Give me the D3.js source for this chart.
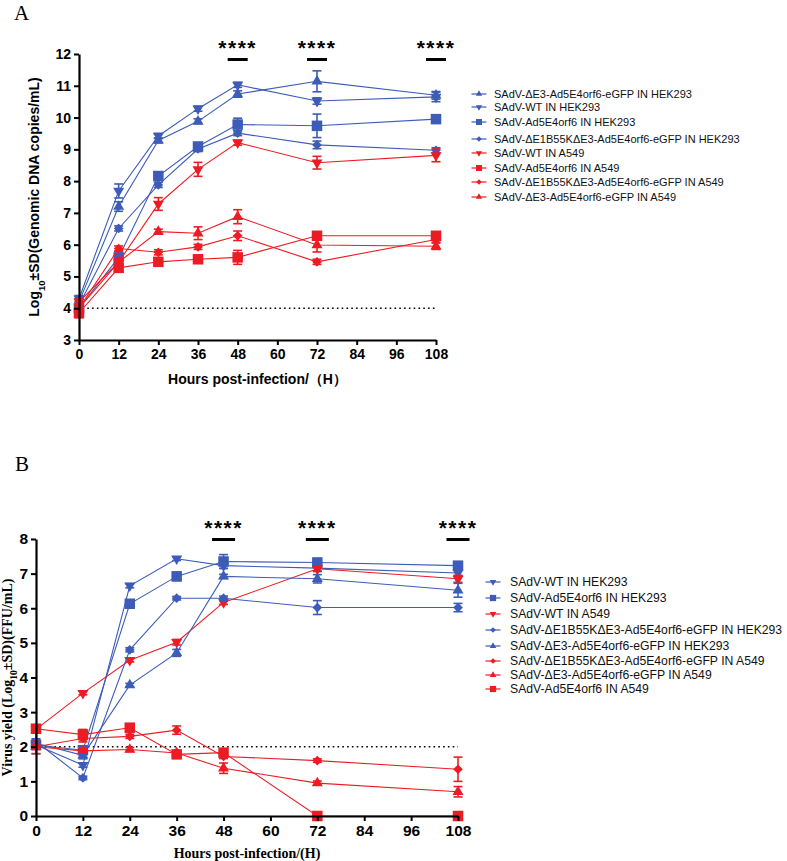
<!DOCTYPE html>
<html>
<head>
<meta charset="utf-8">
<script src="https://cdn.jsdelivr.net/npm/d3@7"></script>
<style>
  body { margin: 0; background: #fff; }
  svg { display: block; }
</style>
</head>
<body>
<svg id="chart" width="787" height="861"></svg>
<script>
// ---------------- DATA ----------------
const hours = [0, 12, 24, 36, 48, 72, 108];
const xTickValues = [0, 12, 24, 36, 48, 60, 72, 84, 96, 108];
const sigHours = [48, 72, 108];

// Panel A : genomic DNA copies
const namesA = [
  "SAdV-ΔE3-Ad5E4orf6-eGFP IN HEK293",
  "SAdV-WT IN HEK293",
  "SAdV-Ad5E4orf6 IN HEK293",
  "SAdV-ΔE1B55KΔE3-Ad5E4orf6-eGFP IN HEK293",
  "SAdV-WT IN A549",
  "SAdV-Ad5E4orf6 IN A549",
  "SAdV-ΔE1B55KΔE3-Ad5E4orf6-eGFP IN A549",
  "SAdV-ΔE3-Ad5E4orf6-eGFP IN A549"
];
const colorsA = ["blue", "blue", "blue", "blue", "red", "red", "red", "red"];
const shapesA = ["up", "down", "square", "diamond", "down", "square", "diamond", "up"];
const valuesA = [
  [4.20, 7.20, 9.28, 9.88, 10.74, 11.14, 10.70],
  [4.30, 7.69, 9.42, 10.28, 11.03, 10.52, 10.65],
  [4.00, 5.60, 8.16, 9.09, 9.78, 9.74, 9.95],
  [4.10, 6.51, 7.88, 9.01, 9.51, 9.14, 8.97],
  [4.20, 5.45, 7.28, 8.37, 9.21, 8.58, 8.81],
  [3.85, 5.27, 5.46, 5.54, 5.60, 6.28, 6.28],
  [4.00, 5.88, 5.76, 5.93, 6.28, 5.46, 6.16],
  [4.00, 5.45, 6.41, 6.36, 6.88, 5.99, 5.95]
];
const errorsA = [
  [0.10, 0.15, 0.08, 0.08, 0.10, 0.33, 0.12],
  [0.10, 0.22, 0.08, 0.08, 0.08, 0.10, 0.15],
  [0.15, 0.20, 0.10, 0.08, 0.20, 0.37, 0.10],
  [0.10, 0.08, 0.08, 0.08, 0.08, 0.12, 0.08],
  [0.10, 0.10, 0.20, 0.22, 0.08, 0.20, 0.20],
  [0.15, 0.10, 0.10, 0.10, 0.22, 0.10, 0.10],
  [0.10, 0.08, 0.08, 0.08, 0.15, 0.08, 0.08],
  [0.10, 0.08, 0.08, 0.20, 0.22, 0.22, 0.10]
];
const yTicksA = [3, 4, 5, 6, 7, 8, 9, 10, 11, 12];

// Panel B : virus yield
const namesB = [
  "SAdV-WT IN HEK293",
  "SAdV-Ad5E4orf6 IN HEK293",
  "SAdV-WT IN A549",
  "SAdV-ΔE1B55KΔE3-Ad5E4orf6-eGFP IN HEK293",
  "SAdV-ΔE3-Ad5E4orf6-eGFP IN HEK293",
  "SAdV-ΔE1B55KΔE3-Ad5E4orf6-eGFP IN A549",
  "SAdV-ΔE3-Ad5E4orf6-eGFP IN A549",
  "SAdV-Ad5E4orf6 IN A549"
];
const colorsB = ["blue", "blue", "red", "blue", "blue", "red", "red", "red"];
const shapesB = ["down", "square", "down", "diamond", "up", "diamond", "up", "square"];
const valuesB = [
  [2.05, 1.47, 6.65, 7.43, 7.23, 7.16, 7.02],
  [2.05, 1.90, 6.13, 6.92, 7.35, 7.32, 7.23],
  [2.50, 3.55, 4.50, 5.02, 6.17, 7.14, 6.85],
  [2.15, 1.10, 4.80, 6.29, 6.29, 6.02, 6.02],
  [2.10, 1.75, 3.78, 4.71, 6.92, 6.85, 6.52],
  [2.00, 2.24, 2.30, 2.48, 1.72, 1.60, 1.35],
  [2.00, 1.88, 1.92, 1.82, 1.38, 0.95, 0.70],
  [2.52, 2.35, 2.55, 1.78, 1.83, 0.00, 0.00]
];
const errorsB = [
  [0.08, 0.06, 0.06, 0.05, 0.08, 0.08, 0.08],
  [0.10, 0.12, 0.10, 0.12, 0.20, 0.12, 0.08],
  [0.08, 0.05, 0.05, 0.08, 0.06, 0.08, 0.10],
  [0.08, 0.05, 0.06, 0.05, 0.06, 0.20, 0.12],
  [0.30, 0.10, 0.05, 0.10, 0.06, 0.12, 0.20],
  [0.20, 0.10, 0.06, 0.12, 0.06, 0.05, 0.35],
  [0.08, 0.06, 0.06, 0.06, 0.15, 0.06, 0.15],
  [0.08, 0.15, 0.08, 0.06, 0.10, 0.00, 0.00]
];
const yTicksB = [0, 1, 2, 3, 4, 5, 6, 7, 8];

// ---------------- STYLE ----------------
const palette = { blue: "#3d5cb8", red: "#ec1c24" };
const SANS = "'Liberation Sans', Arial, sans-serif";
const SERIF = "'Liberation Serif', 'Times New Roman', serif";
const svg = d3.select("#chart");

function symbolPath(shape, size) {
  if (shape === "square") return d3.symbol(d3.symbolSquare, size * 1.3)();
  if (shape === "diamond") return d3.symbol(d3.symbolSquare, size * 0.55)();
  return d3.symbol(d3.symbolTriangle, size * 0.62)();
}
function symbolRotate(shape) {
  if (shape === "down") return 180;
  if (shape === "diamond") return 45;
  return 0;
}

function drawPanel(cfg) {
  const g = svg.append("g");
  const x = d3.scaleLinear().domain([0, 108]).range([cfg.left, cfg.right]);
  const y = d3.scaleLinear().domain(cfg.yDomain).range([cfg.bottom, cfg.top]);

  // dotted limit line
  g.append("line")
    .attr("x1", x(cfg.dotFrom)).attr("x2", x(108))
    .attr("y1", y(cfg.dotY)).attr("y2", y(cfg.dotY))
    .attr("stroke", "#000").attr("stroke-width", 1.6)
    .attr("stroke-dasharray", "1.6 3.2");

  // series
  cfg.values.forEach((vals, i) => {
    const col = palette[cfg.colors[i]];
    const pts = hours.map((h, j) => ({ h, v: vals[j], e: cfg.errors[i][j] }));
    g.append("path")
      .datum(pts)
      .attr("fill", "none").attr("stroke", col).attr("stroke-width", 1.1)
      .attr("d", d3.line().x(d => x(d.h)).y(d => y(d.v)));
    const eb = g.append("g").attr("stroke", col).attr("stroke-width", 1.6);
    pts.forEach(d => {
      if (d.e <= 0) return;
      const cx = x(d.h);
      eb.append("line").attr("x1", cx).attr("x2", cx).attr("y1", y(d.v - d.e)).attr("y2", y(d.v + d.e));
      [d.v - d.e, d.v + d.e].forEach(yy => {
        eb.append("line").attr("x1", cx - cfg.cap).attr("x2", cx + cfg.cap).attr("y1", y(yy)).attr("y2", y(yy));
      });
    });
    g.append("g").selectAll("path").data(pts).join("path")
      .attr("d", symbolPath(cfg.shapes[i], cfg.markerSize))
      .attr("transform", d => `translate(${x(d.h)},${y(d.v)}) rotate(${symbolRotate(cfg.shapes[i])})`)
      .attr("fill", col);
  });

  // axes
  const xAxis = g.append("g").attr("transform", `translate(0,${cfg.bottom})`)
    .call(d3.axisBottom(x).tickValues(xTickValues).tickSize(5).tickPadding(4).tickSizeOuter(0));
  const yAxis = g.append("g").attr("transform", `translate(${cfg.left},0)`)
    .call(d3.axisLeft(y).tickValues(cfg.yTicks).tickSize(5).tickPadding(3).tickSizeOuter(0));
  [xAxis, yAxis].forEach(a => {
    a.select(".domain").attr("stroke", "#000").attr("stroke-width", 2.2);
    a.selectAll(".tick line").attr("stroke", "#000").attr("stroke-width", 2);
    a.selectAll(".tick text").attr("fill", "#000")
      .style("font-family", SANS).style("font-weight", "bold").style("font-size", cfg.tickFont + "px");
  });

  // significance marks
  sigHours.forEach(h => {
    g.append("text")
      .attr("x", x(h)).attr("y", cfg.starY)
      .attr("text-anchor", "middle")
      .style("font-family", SANS).style("font-weight", "bold").style("font-size", "21px")
      .style("letter-spacing", "1.5px")
      .text("****");
    g.append("line")
      .attr("x1", x(h) - cfg.barHalf).attr("x2", x(h) + cfg.barHalf)
      .attr("y1", cfg.barY).attr("y2", cfg.barY)
      .attr("stroke", "#000").attr("stroke-width", 3);
  });

  // axis titles
  g.append("text")
    .attr("x", (cfg.left + cfg.right) / 2).attr("y", cfg.xTitleY)
    .attr("text-anchor", "middle")
    .style("font-family", cfg.titleFont).style("font-weight", "bold").style("font-size", cfg.titleSize + "px")
    .text(cfg.xTitle);
  const yt = g.append("text")
    .attr("transform", `translate(${cfg.yTitleX},${(cfg.top + cfg.bottom) / 2}) rotate(-90)`)
    .attr("text-anchor", "middle")
    .style("font-family", cfg.titleFont).style("font-weight", "bold").style("font-size", cfg.titleSize + "px");
  yt.append("tspan").text(cfg.yTitle[0]);
  yt.append("tspan").attr("baseline-shift", "sub").style("font-size", (cfg.titleSize * 0.68) + "px").text("10");
  yt.append("tspan").text(cfg.yTitle[1]);

  // panel letter
  svg.append("text").attr("x", cfg.letterX).attr("y", cfg.letterY)
    .style("font-family", SERIF).style("font-size", "21px").text(cfg.letter);

  // legend
  const lg = svg.append("g");
  cfg.names.forEach((n, i) => {
    const col = palette[cfg.colors[i]];
    const ly = cfg.legendY[i];
    lg.append("line").attr("x1", cfg.legX - 7.5).attr("x2", cfg.legX + 7.5)
      .attr("y1", ly).attr("y2", ly).attr("stroke", col).attr("stroke-width", 1.2);
    lg.append("path").attr("d", symbolPath(cfg.shapes[i], cfg.legMarker))
      .attr("transform", `translate(${cfg.legX},${ly}) rotate(${symbolRotate(cfg.shapes[i])})`)
      .attr("fill", col);
    lg.append("text").attr("x", cfg.legTextX).attr("y", ly).attr("dy", "0.35em")
      .style("font-family", SANS).style("font-size", cfg.legFont + "px").attr("fill", "#111")
      .text(n);
  });
}

drawPanel({
  letter: "A", letterX: 14, letterY: 20,
  left: 79, right: 436, top: 54, bottom: 340,
  yDomain: [3, 12], yTicks: yTicksA,
  values: valuesA, errors: errorsA, names: namesA, colors: colorsA, shapes: shapesA,
  markerSize: 85, cap: 4.5,
  dotY: 4, dotFrom: 2.5,
  tickFont: 14,
  starY: 55, barY: 59.5, barHalf: 10,
  xTitle: "Hours post-infection/（H）", xTitleY: 384,
  yTitle: ["Log", "±SD(Genomic DNA copies/mL)"], yTitleX: 39,
  titleFont: SANS, titleSize: 14,
  legendY: [94, 107, 122, 139, 153, 168, 182, 197],
  legX: 479, legTextX: 494, legMarker: 28, legFont: 11
});

drawPanel({
  letter: "B", letterX: 15, letterY: 471,
  left: 36, right: 458, top: 539, bottom: 816,
  yDomain: [0, 8], yTicks: yTicksB,
  values: valuesB, errors: errorsB, names: namesB, colors: colorsB, shapes: shapesB,
  markerSize: 85, cap: 4.5,
  dotY: 2, dotFrom: 1,
  tickFont: 15.5,
  starY: 535, barY: 539.5, barHalf: 11.5,
  xTitle: "Hours post-infection/(H)", xTitleY: 858,
  yTitle: ["Virus yield (Log", "±SD)(FFU/mL)"], yTitleX: 12,
  titleFont: SERIF, titleSize: 14,
  legendY: [582, 598, 614, 630, 646, 661, 675, 689],
  legX: 493, legTextX: 510, legMarker: 30, legFont: 12.2
});
</script>
</body>
</html>
